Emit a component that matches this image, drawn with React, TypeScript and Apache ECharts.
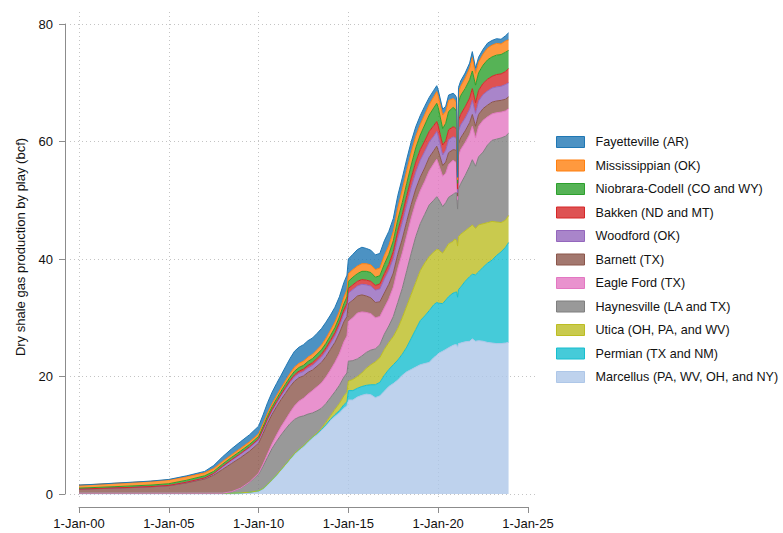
import React, { useEffect, useRef } from "react";
import * as echarts from "echarts";

// Dates as decimal years
const dates = [
  2000, 2001, 2002, 2003, 2004, 2005, 2006, 2007, 2007.5, 2008, 2008.5, 2009, 2009.5,
  2010, 2010.25, 2010.5, 2010.75, 2011, 2011.25, 2011.5, 2011.75, 2012, 2012.25, 2012.5, 2012.75,
  2013, 2013.25, 2013.5, 2013.75, 2014, 2014.25, 2014.5, 2014.75,
  2014.92, 2015, 2015.25, 2015.5, 2015.75, 2016, 2016.25, 2016.5, 2016.75, 2017, 2017.25, 2017.5,
  2017.75, 2018, 2018.25, 2018.5, 2018.75, 2019, 2019.25, 2019.5, 2019.75,
  2019.92, 2020, 2020.25, 2020.42, 2020.58, 2020.83, 2020.92, 2021.02, 2021.08, 2021.13, 2021.25,
  2021.5, 2021.75, 2021.9, 2022.08, 2022.25, 2022.5, 2022.75, 2023, 2023.25, 2023.5, 2023.75, 2023.92,
];

const marcellus = [
  0, 0, 0, 0, 0, 0, 0, 0, 0, 0, 0, 0.05, 0.15,
  0.4, 0.8, 1.5, 2.3, 3.1, 4.0, 4.9, 5.8, 6.7, 7.4, 8.0, 8.8, 9.5, 10.1, 10.8, 11.6, 12.5, 13.2, 13.8, 14.6,
  15.0, 16.0, 16.0, 16.5, 16.8, 17.0, 16.9, 16.4, 16.7, 17.5, 18.3, 18.8, 19.4, 20.2, 20.8, 21.2, 21.6, 22.0, 22.2, 22.4, 23.2,
  23.6, 23.9, 24.3, 24.6, 24.9, 25.3, 25.4, 25.4, 25.0, 25.6, 25.7, 25.9, 26.0, 26.4, 26.0, 26.1, 26.0, 25.8, 25.7, 25.6, 25.6, 25.7, 25.8,
];
const permian = [
  0.15, 0.15, 0.15, 0.15, 0.15, 0.15, 0.15, 0.15, 0.15, 0.15, 0.15, 0.15, 0.15,
  0.15, 0.15, 0.15, 0.15, 0.15, 0.15, 0.15, 0.18, 0.2, 0.2, 0.2, 0.2, 0.2, 0.2, 0.2, 0.2, 0.2, 0.3, 0.4, 0.6,
  0.7, 1.6, 1.6, 1.5, 1.5, 1.5, 1.7, 2.2, 2.3, 2.7, 2.9, 3.2, 3.4, 3.6, 4.2, 5.3, 6.4, 7.5, 8.1, 8.8, 9.0,
  9.0, 8.6, 8.1, 8.4, 8.7, 8.9, 8.9, 9.0, 8.5, 9.2, 9.5, 10.3, 11.0, 11.0, 11.3, 11.7, 12.6, 13.5, 14.1, 15.0, 15.6, 16.3, 17.0,
];
const utica = [
  0, 0, 0, 0, 0, 0, 0, 0, 0, 0, 0, 0, 0,
  0, 0, 0, 0, 0, 0, 0, 0, 0, 0, 0, 0, 0, 0.05, 0.2, 0.4, 0.6, 0.9, 1.2, 1.5,
  1.6, 1.6, 1.9, 2.0, 2.3, 2.9, 3.4, 3.9, 4.2, 4.4, 4.6, 4.8, 5.4, 6.2, 7.0, 7.5, 8.0, 8.5, 9.0, 9.2, 9.0,
  9.0, 9.1, 8.6, 8.8, 9.0, 8.8, 9.1, 8.8, 8.7, 9.0, 9.0, 8.6, 8.4, 8.4, 7.9, 8.0, 7.4, 6.9, 6.6, 5.7, 5.0, 4.6, 4.6,
];
const haynesville = [
  0, 0, 0, 0, 0, 0, 0, 0, 0, 0, 0.25, 0.8, 1.7,
  2.8, 3.8, 4.6, 5.3, 5.7, 5.9, 6.0, 6.0, 5.8, 5.5, 5.1, 4.6, 4.1, 3.8, 3.4, 3.2, 3.1, 3.0, 3.1, 3.2,
  3.3, 3.4, 3.2, 3.0, 2.9, 2.7, 2.5, 2.2, 2.2, 2.6, 2.8, 3.4, 4.4, 5.0, 6.0, 7.0, 7.8, 8.0, 8.3, 8.8, 8.8,
  9.0, 8.7, 7.9, 7.8, 7.9, 8.0, 7.8, 8.1, 6.3, 8.2, 8.6, 9.4, 10.4, 11.1, 10.6, 11.6, 12.2, 13.2, 13.8, 14.1, 14.4, 14.3, 14.0,
];
const eagleFord = [
  0, 0, 0, 0, 0, 0, 0, 0, 0, 0, 0, 0, 0.05,
  0.2, 0.35, 0.6, 0.8, 1.1, 1.4, 1.6, 1.9, 2.3, 2.7, 3.0, 3.4, 3.8, 4.1, 4.3, 4.5, 4.7, 5.0, 5.4, 6.0,
  6.3, 6.8, 7.3, 7.8, 7.5, 6.8, 6.2, 5.3, 4.8, 4.5, 4.6, 5.0, 5.8, 6.0, 6.0, 6.0, 5.8, 5.6, 5.6, 5.8, 6.2,
  6.4, 6.0, 5.2, 5.0, 5.6, 5.8, 5.4, 5.1, 1.6, 5.6, 5.8, 5.6, 5.4, 5.7, 4.8, 5.2, 5.4, 4.8, 4.5, 4.5, 4.4, 4.3, 4.2,
];
const barnett = [
  0.65, 0.75, 0.85, 0.95, 1.07, 1.25, 1.75, 2.4, 3.05, 4.05, 4.8, 5.2, 5.25,
  5.1, 5.2, 5.2, 5.0, 4.8, 4.6, 4.5, 4.4, 4.2, 4.0, 3.8, 3.7, 3.5, 3.5, 3.5, 3.5, 3.5, 3.4, 3.5, 3.4,
  3.3, 3.0, 3.0, 2.9, 2.9, 2.8, 2.7, 2.6, 2.5, 2.5, 2.5, 2.4, 2.4, 2.4, 2.4, 2.3, 2.3, 2.3, 2.3, 2.3, 2.2,
  2.2, 2.2, 1.8, 1.9, 2.0, 1.8, 2.0, 2.0, 0.6, 2.0, 2.0, 2.0, 2.0, 2.0, 2.0, 2.0, 2.0, 2.0, 2.0, 2.0, 2.0, 2.0, 2.0,
];
const woodford = [
  0.02, 0.02, 0.02, 0.02, 0.03, 0.04, 0.1, 0.15, 0.25, 0.45, 0.55, 0.6, 0.6,
  0.6, 0.6, 0.6, 0.6, 0.6, 0.65, 0.7, 0.72, 0.75, 0.75, 0.75, 0.78, 0.8, 0.85, 0.9, 0.95, 1.0, 1.1, 1.2, 1.4,
  1.5, 1.8, 1.8, 1.7, 1.8, 1.9, 2.0, 2.1, 2.2, 2.4, 2.4, 2.5, 2.7, 2.8, 2.9, 2.9, 2.9, 2.9, 2.8, 2.6, 2.5,
  2.5, 2.5, 1.8, 2.0, 2.2, 2.2, 2.1, 2.1, 0.6, 2.2, 2.2, 2.2, 2.3, 2.4, 2.2, 2.3, 2.4, 2.4, 2.4, 2.4, 2.4, 2.5, 2.4,
];
const bakken = [
  0.02, 0.02, 0.02, 0.02, 0.02, 0.02, 0.02, 0.04, 0.05, 0.07, 0.1, 0.12, 0.15,
  0.15, 0.17, 0.2, 0.22, 0.25, 0.27, 0.3, 0.32, 0.35, 0.37, 0.4, 0.42, 0.45, 0.47, 0.5, 0.52, 0.55, 0.58, 0.62, 0.7,
  0.75, 0.8, 0.8, 0.8, 0.8, 0.8, 0.8, 0.8, 0.85, 0.9, 1.0, 1.2, 1.3, 1.4, 1.5, 1.6, 1.7, 1.8, 1.8, 1.8, 1.8,
  1.7, 1.7, 1.7, 1.6, 1.7, 1.7, 1.7, 1.6, 0.6, 1.8, 1.8, 1.9, 1.9, 2.0, 1.8, 1.8, 1.9, 2.0, 2.0, 2.1, 2.1, 2.2, 2.4,
];
const niobrara = [
  0.16, 0.18, 0.21, 0.24, 0.25, 0.29, 0.33, 0.36, 0.35, 0.38, 0.4, 0.4, 0.4,
  0.4, 0.42, 0.45, 0.48, 0.5, 0.52, 0.55, 0.58, 0.6, 0.62, 0.65, 0.67, 0.7, 0.72, 0.75, 0.78, 0.8, 0.85, 0.9, 1.0,
  1.1, 1.2, 1.3, 1.3, 1.4, 1.5, 1.5, 1.4, 1.4, 1.6, 1.7, 1.8, 1.9, 2.0, 2.1, 2.2, 2.4, 2.5, 2.7, 2.8, 3.0,
  3.1, 3.1, 2.8, 3.0, 3.1, 3.3, 3.2, 3.0, 1.0, 3.1, 3.2, 3.1, 3.1, 3.0, 3.0, 3.0, 3.1, 3.3, 3.3, 3.3, 3.3, 3.3, 3.1,
];
const mississippian = [
  0.5, 0.53, 0.57, 0.6, 0.63, 0.65, 0.6, 0.5, 0.5, 0.45, 0.45, 0.45, 0.45,
  0.45, 0.48, 0.5, 0.52, 0.55, 0.57, 0.6, 0.62, 0.7, 0.7, 0.72, 0.73, 0.75, 0.78, 0.8, 0.85, 0.9, 0.95, 1.0, 1.1,
  1.2, 1.3, 1.3, 1.3, 1.3, 1.3, 1.3, 1.3, 1.3, 1.5, 1.5, 1.6, 2.0, 2.2, 2.2, 2.2, 2.0, 1.8, 1.8, 1.8, 1.9,
  2.0, 2.0, 2.3, 2.0, 1.9, 1.5, 1.5, 1.5, 0.6, 1.6, 1.6, 1.8, 2.0, 2.3, 2.0, 1.8, 1.9, 2.0, 2.0, 2.0, 1.8, 1.9, 1.8,
];
const fayetteville = [
  0.02, 0.02, 0.03, 0.04, 0.05, 0.08, 0.15, 0.25, 0.5, 0.8, 1.0, 1.15, 1.2,
  1.3, 1.5, 1.75, 1.95, 2.05, 2.15, 2.35, 2.55, 2.7, 2.75, 2.8, 2.8, 2.75, 2.75, 2.8, 2.75, 2.6, 2.5, 2.45, 2.5,
  2.5, 2.5, 2.6, 2.8, 2.8, 2.6, 2.5, 2.5, 2.5, 2.5, 2.4, 2.2, 2.1, 2.0, 1.9, 1.8, 1.6, 1.5, 1.4, 1.2, 1.1,
  1.0, 1.0, 1.0, 0.9, 0.9, 0.9, 0.9, 0.9, 0.4, 0.9, 0.9, 0.85, 0.85, 1.0, 0.9, 0.85, 0.8, 0.85, 0.8, 0.8, 0.8, 0.9, 1.2,
];

const yTicks = [0, 20, 40, 60, 80];
const xTickYears = [2000, 2005, 2010, 2015, 2020, 2025];

// stacking order: bottom first
const seriesDefs = [
  { name: "Marcellus (PA, WV, OH, and NY)", data: marcellus, color: "#aec7e8" },
  { name: "Permian (TX and NM)", data: permian, color: "#17becf" },
  { name: "Utica (OH, PA, and WV)", data: utica, color: "#bcbd22" },
  { name: "Haynesville (LA and TX)", data: haynesville, color: "#7f7f7f" },
  { name: "Eagle Ford (TX)", data: eagleFord, color: "#e377c2" },
  { name: "Barnett (TX)", data: barnett, color: "#8c564b" },
  { name: "Woodford (OK)", data: woodford, color: "#9467bd" },
  { name: "Bakken (ND and MT)", data: bakken, color: "#d62728" },
  { name: "Niobrara-Codell (CO and WY)", data: niobrara, color: "#2ca02c" },
  { name: "Mississippian (OK)", data: mississippian, color: "#ff7f0e" },
  { name: "Fayetteville (AR)", data: fayetteville, color: "#1f77b4" },
];

function rgba(hex: string, a: number) {
  const n = parseInt(hex.slice(1), 16);
  return `rgba(${(n >> 16) & 255},${(n >> 8) & 255},${n & 255},${a})`;
}

// decimal year -> UTC timestamp (for the time axis that carries the data)
function yearToTime(y: number) {
  const yr = Math.floor(y);
  const start = Date.UTC(yr, 0, 1);
  const end = Date.UTC(yr + 1, 0, 1);
  return start + (y - yr) * (end - start);
}

const FONT = 'Arial, "Liberation Sans", Helvetica, sans-serif';
const GRID_COLOR = "#c4c4c4";
const AXIS_COLOR = "#8c8c8c";
const TEXT_COLOR = "#111111";

export default function App() {
  const ref = useRef<HTMLDivElement>(null);
  useEffect(() => {
    if (!ref.current) return;
    const chart = echarts.init(ref.current, null, { renderer: "svg" });
    const legendOrder = [...seriesDefs].reverse();
    const xMin = xTickYears[0];
    const xMax = xTickYears[xTickYears.length - 1];
    chart.setOption({
      animation: false,
      backgroundColor: "#ffffff",
      textStyle: { fontFamily: FONT },
      grid: [
        { left: 79, top: 24, width: 449, height: 470 },
        { left: 70, top: 24, width: 467, height: 470 },
        { left: 79, top: 12, width: 449, height: 488 },
      ],
      xAxis: [
        // data axis (time), hidden
        {
          type: "time",
          gridIndex: 0,
          min: yearToTime(xMin),
          max: yearToTime(xMax),
          show: false,
        },
        { type: "value", gridIndex: 1, min: 0, max: 1, show: false },
        {
          type: "value",
          gridIndex: 2,
          min: xMin,
          max: xMax,
          interval: 5,
          axisLine: { show: false },
          axisTick: { show: false },
          axisLabel: { show: false },
          splitLine: {
            show: true,
            showMaxLine: false,
            lineStyle: { color: GRID_COLOR, width: 1, type: [1, 3] },
          },
        },
        // visible labelled axis
        {
          type: "value",
          gridIndex: 0,
          min: xMin,
          max: xMax,
          interval: 5,
          position: "bottom",
          offset: 13,
          axisLine: { show: true, onZero: false, lineStyle: { color: AXIS_COLOR, width: 1 } },
          axisTick: { show: true, length: 6, lineStyle: { color: AXIS_COLOR, width: 1 } },
          axisLabel: {
            margin: 10,
            fontSize: 13,
            color: TEXT_COLOR,
            fontFamily: FONT,
            formatter: (v: number) => "1-Jan-" + String(Math.round(v) % 100).padStart(2, "0"),
          },
          splitLine: { show: false },
        },
      ],
      yAxis: [
        {
          type: "value",
          gridIndex: 0,
          min: yTicks[0],
          max: yTicks[yTicks.length - 1],
          interval: 20,
          position: "left",
          offset: 14,
          axisLine: { show: true, onZero: false, lineStyle: { color: AXIS_COLOR, width: 1 } },
          axisTick: { show: true, length: 6, lineStyle: { color: AXIS_COLOR, width: 1 } },
          axisLabel: { margin: 12, fontSize: 13, color: TEXT_COLOR, fontFamily: FONT },
          splitLine: { show: false },
        },
        {
          type: "value",
          gridIndex: 1,
          min: yTicks[0],
          max: yTicks[yTicks.length - 1],
          interval: 20,
          axisLine: { show: false },
          axisTick: { show: false },
          axisLabel: { show: false },
          splitLine: {
            show: true,
            lineStyle: { color: GRID_COLOR, width: 1, type: [1, 3] },
          },
        },
        { type: "value", gridIndex: 2, min: 0, max: 1, show: false },
      ],
      legend: {
        orient: "vertical",
        left: 556,
        top: 135,
        padding: 0,
        itemWidth: 28,
        itemHeight: 11,
        itemGap: 9.5,
        icon: "rect",
        selectedMode: false,
        textStyle: {
          fontSize: 12.6,
          color: TEXT_COLOR,
          fontFamily: FONT,
          lineHeight: 14,
          padding: [0, 0, 0, 6],
        },
        data: legendOrder.map((s) => ({
          name: s.name,
          itemStyle: { color: rgba(s.color, 0.8), borderColor: s.color, borderWidth: 1 },
        })),
      },
      graphic: [
        {
          type: "text",
          x: 20,
          y: 247,
          rotation: Math.PI / 2,
          style: {
            text: "Dry shale gas production by play (bcf)",
            fontSize: 13,
            fontFamily: FONT,
            fill: TEXT_COLOR,
            textAlign: "center",
            textVerticalAlign: "middle",
          },
        },
      ],
      series: seriesDefs.map((s) => ({
        name: s.name,
        type: "line",
        stack: "total",
        xAxisIndex: 0,
        yAxisIndex: 0,
        symbol: "none",
        showSymbol: false,
        data: dates.map((d, i) => [yearToTime(d), s.data[i]]),
        lineStyle: { width: 1, color: s.color },
        itemStyle: { color: s.color },
        areaStyle: { color: rgba(s.color, 0.8), opacity: 1 },
        emphasis: { disabled: true },
      })),
    });
    return () => chart.dispose();
  }, []);
  return (
    <div
      ref={ref}
      style={{ position: "fixed", left: 0, top: 0, width: 783, height: 533, background: "#fff" }}
    />
  );
}
